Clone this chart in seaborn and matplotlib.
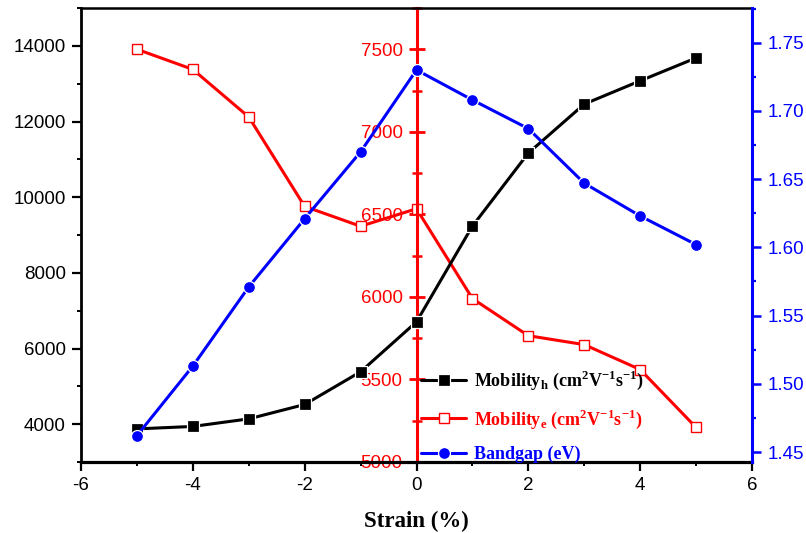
import matplotlib
matplotlib.use('Agg')
import matplotlib.pyplot as plt
import seaborn as sns
from matplotlib.ticker import MultipleLocator

# ---- data ----
strain = [-5, -4, -3, -2, -1, 0, 1, 2, 3, 4, 5]
mobility_h = [3875, 3940, 4140, 4520, 5385, 6705, 9235, 11165, 12460, 13075, 13680]
mobility_e = [7500, 7378, 7090, 6548, 6428, 6534, 5990, 5765, 5711, 5560, 5209]
bandgap = [1.462, 1.513, 1.571, 1.621, 1.670, 1.730, 1.708, 1.687, 1.647, 1.623, 1.602]

label_h = r"Mobility$_\mathregular{h}$ (cm$^\mathregular{2}$V$^\mathregular{-1}$s$^\mathregular{-1}$)"
label_e = r"Mobility$_\mathregular{e}$ (cm$^\mathregular{2}$V$^\mathregular{-1}$s$^\mathregular{-1}$)"
label_b = "Bandgap (eV)"
x_label = "Strain (%)"

sns.set_style('ticks')
plt.rcParams.update({
    'font.family': ['Liberation Sans', 'DejaVu Sans'],
    'axes.unicode_minus': False,
    'xtick.labelsize': 13.5,
    'ytick.labelsize': 13.5,
    'text.color': 'black',
    'axes.labelcolor': 'black',
    'xtick.color': 'black',
    'ytick.color': 'black',
    'axes.edgecolor': 'black',
})

fig = plt.figure(figsize=(8.06, 5.33), dpi=100)
fig.patch.set_facecolor('white')
W, H = 806, 533
ax_h = fig.add_axes([81 / W, (H - 462) / H, (752 - 81) / W, (462 - 8) / H])
ax_e = ax_h.twinx()
ax_b = ax_h.twinx()

ax_e.set_zorder(0)
ax_h.set_zorder(1)
ax_b.set_zorder(2)
for a in (ax_h, ax_e, ax_b):
    a.patch.set_visible(False)

lw = 2.2
sns.lineplot(x=strain, y=mobility_h, ax=ax_h, color='black', marker='s', markersize=8,
             markeredgecolor='white', markeredgewidth=0.9, linewidth=lw, legend=False)
sns.lineplot(x=strain, y=mobility_e, ax=ax_e, color='red', marker='s', markersize=7.2,
             markerfacecolor='white', markeredgecolor='red', markeredgewidth=1.0,
             linewidth=lw, legend=False)
sns.lineplot(x=strain, y=bandgap, ax=ax_b, color='blue', marker='o', markersize=8.6,
             markeredgecolor='white', markeredgewidth=0.9, linewidth=lw, legend=False)

# ---- left (black) axis ----
ax_h.set_xlim(-6, 6)
ax_h.set_ylim(3000, 15000)
ax_h.xaxis.set_major_locator(MultipleLocator(2))
ax_h.xaxis.set_minor_locator(MultipleLocator(1))
ax_h.yaxis.set_major_locator(MultipleLocator(2000))
ax_h.yaxis.set_minor_locator(MultipleLocator(1000))
ax_h.set_yticks([4000, 6000, 8000, 10000, 12000, 14000])
ax_h.tick_params(which='major', direction='out', length=6.5, width=1.6, pad=4.5)
ax_h.tick_params(which='minor', direction='out', length=3.2, width=1.4)
ax_h.tick_params(axis='x', which='both', top=False)
ax_h.tick_params(axis='y', which='both', right=False)
ax_h.spines['right'].set_visible(False)
ax_h.spines['left'].set_linewidth(2.0)
ax_h.spines['bottom'].set_linewidth(2.3)
ax_h.spines['top'].set_linewidth(1.8)
ax_h.set_ylabel('')
ax_h.set_xlabel(x_label, fontfamily='Liberation Serif', fontweight='bold', fontsize=16.5, labelpad=12)

# ---- middle (red) axis at x = 0 ----
ax_e.set_ylim(5000, 7750)
ax_e.yaxis.set_major_locator(MultipleLocator(500))
ax_e.yaxis.set_minor_locator(MultipleLocator(250))
ax_e.set_yticks([5000, 5500, 6000, 6500, 7000, 7500])
ax_e.yaxis.tick_left()
ax_e.spines['left'].set_position(('data', 0))
ax_e.spines['left'].set_color('red')
ax_e.spines['left'].set_linewidth(2.2)
for s in ('right', 'top', 'bottom'):
    ax_e.spines[s].set_visible(False)
ax_e.tick_params(axis='y', which='major', direction='inout', length=12, width=2.0,
                 colors='red', labelcolor='red', pad=4)
ax_e.tick_params(axis='y', which='minor', direction='inout', length=6.5, width=1.8, colors='red')
ax_e.tick_params(axis='x', which='both', bottom=False, top=False, labelbottom=False)
ax_e.set_ylabel('')

# ---- right (blue) axis ----
ax_b.set_ylim(1.4427, 1.7754)
ax_b.set_yticks([1.45, 1.50, 1.55, 1.60, 1.65, 1.70, 1.75])
ax_b.yaxis.set_minor_locator(MultipleLocator(0.025))
for s in ('left', 'top', 'bottom'):
    ax_b.spines[s].set_visible(False)
ax_b.spines['right'].set_color('blue')
ax_b.spines['right'].set_linewidth(2.2)
ax_b.tick_params(axis='y', which='major', direction='out', length=6.5, width=1.8,
                 colors='blue', labelcolor='blue', pad=4.5)
ax_b.tick_params(axis='y', which='minor', direction='out', length=3.2, width=1.6, colors='blue')
ax_b.tick_params(axis='x', which='both', bottom=False, top=False, labelbottom=False)
ax_b.yaxis.set_major_formatter(matplotlib.ticker.FormatStrFormatter('%.2f'))
ax_b.set_ylabel('')

# ---- legend ----
handles = [ax_h.get_lines()[0], ax_e.get_lines()[0], ax_b.get_lines()[0]]
leg = fig.legend(handles, [label_h, label_e, label_b], loc='upper left',
                 bbox_to_anchor=(421 / W, 1 - 369 / H), frameon=False,
                 borderpad=0, borderaxespad=0, handlelength=2.5, handletextpad=0.45,
                 labelspacing=0.85,
                 prop={'family': 'Liberation Serif', 'weight': 'bold', 'size': 13})
for t, c in zip(leg.get_texts(), ['black', 'red', 'blue']):
    t.set_color(c)
leg.set_zorder(10)

fig.savefig('out.png', dpi=100, facecolor='white')
